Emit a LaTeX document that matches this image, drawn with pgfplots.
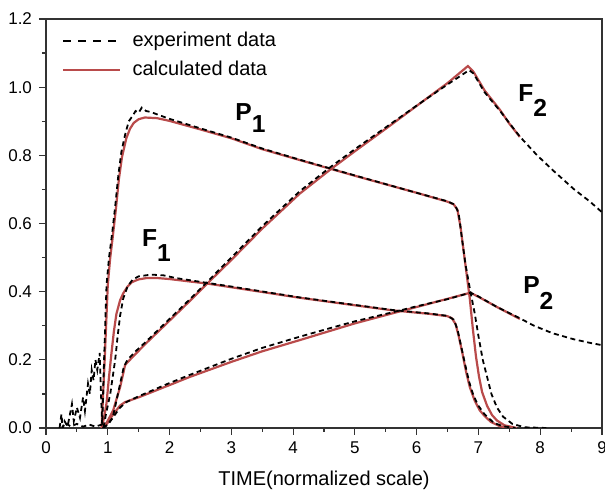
\documentclass[border=0pt]{standalone}
\usepackage{pgfplots}
\pgfplotsset{compat=1.18}
\usepackage{fontspec}
\setmainfont{Liberation Sans}
\usetikzlibrary{calc}
\definecolor{calcred}{RGB}{185,75,75}
\begin{document}
\begin{tikzpicture}
\begin{axis}[
  scale only axis,
  width=278pt, height=204.5pt,
  xmin=0, xmax=9, ymin=0, ymax=1.2,
  xtick={0,1,...,9}, ytick={0,0.2,...,1.2},
  minor tick num=1,
  tick align=outside,
  xtick pos=bottom, ytick pos=left,
  major tick length=3.5pt, minor tick length=2pt,
  axis line style={line width=0.8pt, black!80},
  every tick/.style={black!80, line width=0.6pt},
  /pgf/number format/assume math mode=true,
  yticklabel style={/pgf/number format/.cd, fixed, fixed zerofill, precision=1},
  ticklabel style={font=\fontsize{8.5}{10}\selectfont},
  xlabel={TIME(normalized scale)},
  xlabel style={at={(axis description cs:0.5,0)}, anchor=base, yshift=-29pt, font=\fontsize{10}{12}\selectfont},
  legend style={draw=none, fill=none, at={(rel axis cs:0,1)}, anchor=north west,
    xshift=5pt, yshift=-2.5pt, font=\fontsize{10}{12}\selectfont, row sep=1.5pt},
  legend image code/.code={\draw[#1] (0pt,0pt) -- (28.5pt,0pt); \path (32pt,0pt);},
  legend cell align=left,
]
\coordinate (SW) at (rel axis cs:0,0);
\coordinate (NE) at (rel axis cs:1,1);
\addlegendimage{black, line width=0.9pt, dash pattern=on 4pt off 3.5pt}
\addlegendentry{experiment data}
\addlegendimage{calcred, line width=1.1pt}
\addlegendentry{calculated data}

% ---------- calculated data ----------
% P1
\addplot[calcred, line width=1.1pt, forget plot] coordinates {
(0.9,0) (0.95,0.2) (1.0,0.42) (1.04,0.5) (1.08,0.56) (1.13,0.64) (1.18,0.73) (1.23,0.795) (1.3,0.85) (1.36,0.878) (1.42,0.895) (1.5,0.906) (1.6,0.911) (1.8,0.909) (2.0,0.901) (2.5,0.876) (3.0,0.85) (3.5,0.818) (4.11,0.786) (5.0,0.74) (6.0,0.69) (6.5,0.664) (6.6,0.656) (6.66,0.64) (6.71,0.59) (6.76,0.52) (6.81,0.45) (6.86,0.38) (6.91,0.29) (6.96,0.21) (7.01,0.15) (7.06,0.105) (7.14,0.065) (7.22,0.038) (7.3,0.022) (7.42,0.008) (7.62,0)
};
% F1
\addplot[calcred, line width=1.1pt, forget plot] coordinates {
(0.9,0) (0.94,0.03) (0.98,0.073) (1.02,0.15) (1.06,0.22) (1.1,0.285) (1.14,0.335) (1.2,0.375) (1.25,0.395) (1.32,0.415) (1.39,0.428) (1.5,0.436) (1.63,0.44) (1.8,0.44) (2.0,0.437) (2.6,0.424) (3.0,0.413) (4.11,0.382) (5.0,0.36) (5.62,0.345) (6.2,0.335) (6.5,0.328) (6.57,0.322) (6.63,0.305) (6.68,0.27) (6.74,0.22) (6.8,0.165) (6.86,0.12) (6.94,0.08) (7.02,0.052) (7.1,0.035) (7.2,0.018) (7.35,0.005) (7.5,0)
};
% F2
\addplot[calcred, line width=1.1pt, forget plot] coordinates {
(0.9,0) (0.98,0.015) (1.04,0.035) (1.09,0.053) (1.15,0.09) (1.2,0.12) (1.25,0.16) (1.28,0.185) (1.4,0.208) (1.6,0.245) (2.0,0.315) (2.33,0.373) (2.6,0.422) (3.0,0.493) (3.5,0.585) (4.11,0.688) (4.6,0.758) (5.0,0.812) (5.5,0.878) (6.0,0.945) (6.5,1.012) (6.83,1.062) (6.92,1.045) (7.1,0.99) (7.35,0.933) (7.5,0.893) (7.67,0.854)
};
% P2
\addplot[calcred, line width=1.1pt, forget plot] coordinates {
(0.9,0) (0.98,0.01) (1.06,0.033) (1.13,0.05) (1.2,0.066) (1.28,0.076) (1.5,0.09) (2.0,0.126) (2.33,0.15) (3.0,0.194) (3.5,0.225) (4.11,0.258) (4.6,0.285) (5.0,0.307) (5.62,0.337) (6.0,0.355) (6.5,0.379) (6.87,0.397) (7.0,0.385) (7.3,0.355) (7.67,0.32)
};

% ---------- experiment data ----------
% P1
\addplot[black, line width=0.9pt, dash pattern=on 2.5pt off 1.8pt, forget plot] coordinates {
(0.22,0) (0.25,0.04) (0.27,0.0) (0.3,0.02) (0.35,0.005) (0.42,0.07) (0.45,0.02) (0.5,0.06) (0.55,0.03) (0.6,0.09) (0.63,0.05) (0.68,0.13) (0.71,0.1) (0.74,0.17) (0.77,0.14) (0.8,0.2) (0.83,0.17) (0.87,0.22) (0.89,0.1) (0.91,0.01) (0.94,0.2) (0.98,0.42) (1.02,0.5) (1.07,0.57) (1.12,0.65) (1.17,0.74) (1.22,0.81) (1.28,0.86) (1.34,0.9) (1.4,0.915) (1.45,0.93) (1.5,0.925) (1.55,0.94) (1.62,0.93) (1.7,0.927) (1.8,0.92) (2.0,0.907) (2.5,0.879) (3.0,0.852) (3.5,0.82) (4.11,0.787) (5.0,0.741) (6.0,0.69) (6.5,0.665) (6.62,0.655) (6.68,0.63) (6.73,0.56) (6.79,0.48) (6.86,0.41) (6.94,0.336) (7.0,0.27) (7.07,0.2) (7.14,0.15) (7.21,0.1) (7.3,0.06) (7.4,0.033) (7.55,0.012) (7.75,0.002) (8.1,0)
};
% F1
\addplot[black, line width=0.9pt, dash pattern=on 2.5pt off 1.8pt, forget plot] coordinates {
(0.25,0.03) (0.27,0) (0.3,0.015) (0.4,0.005) (0.5,0.012) (0.6,0.004) (0.7,0.01) (0.8,0.004) (0.9,0.01) (0.93,0.0) (0.97,0.04) (1.04,0.1) (1.08,0.15) (1.12,0.2) (1.16,0.27) (1.2,0.33) (1.25,0.38) (1.32,0.415) (1.4,0.435) (1.5,0.445) (1.7,0.45) (1.9,0.448) (2.1,0.44) (2.6,0.426) (3.0,0.415) (4.11,0.383) (5.0,0.361) (5.62,0.346) (6.2,0.336) (6.5,0.329) (6.6,0.318) (6.66,0.29) (6.72,0.24) (6.78,0.19) (6.85,0.135) (6.92,0.095) (7.0,0.065) (7.1,0.04) (7.25,0.015) (7.4,0.005) (7.6,0)
};
% F2
\addplot[black, line width=0.9pt, dash pattern=on 2.5pt off 1.8pt, forget plot] coordinates {
(0.92,0) (1.0,0.01) (1.08,0.03) (1.14,0.08) (1.2,0.13) (1.26,0.18) (1.32,0.2) (1.45,0.225) (1.6,0.25) (2.0,0.32) (2.33,0.378) (2.6,0.427) (3.0,0.5) (3.5,0.592) (4.11,0.695) (4.6,0.765) (5.0,0.818) (5.5,0.882) (6.0,0.946) (6.5,1.008) (6.85,1.05) (6.92,1.04) (7.1,0.985) (7.35,0.93) (7.67,0.855) (7.95,0.80) (8.2,0.757) (8.55,0.70) (8.8,0.665) (9.0,0.633)
};
% P2
\addplot[black, line width=0.9pt, dash pattern=on 2.5pt off 1.8pt, forget plot] coordinates {
(0.92,0) (1.0,0.01) (1.1,0.035) (1.2,0.06) (1.3,0.076) (1.5,0.093) (2.0,0.132) (2.33,0.156) (3.0,0.203) (3.5,0.235) (4.11,0.268) (4.6,0.293) (5.0,0.313) (5.62,0.34) (6.0,0.357) (6.5,0.378) (6.87,0.397) (7.0,0.386) (7.3,0.355) (7.67,0.322) (7.9,0.30) (8.2,0.278) (8.55,0.26) (8.8,0.25) (9.0,0.243)
};

% labels
\node[anchor=base west, inner sep=0pt, font=\fontsize{12.3}{14}\selectfont\bfseries] at (axis cs:3.06,0.903) {P\raisebox{-6pt}{1}};
\node[anchor=base west, inner sep=0pt, font=\fontsize{12.3}{14}\selectfont\bfseries] at (axis cs:1.55,0.532) {F\raisebox{-7.5pt}{1}};
\node[anchor=base west, inner sep=0pt, font=\fontsize{12.3}{14}\selectfont\bfseries] at (axis cs:7.64,0.957) {F\raisebox{-7.5pt}{2}};
\node[anchor=base west, inner sep=0pt, font=\fontsize{12.3}{14}\selectfont\bfseries] at (axis cs:7.72,0.395) {P\raisebox{-8pt}{2}};
\end{axis}
\pgfresetboundingbox
\useasboundingbox ($(SW)+(-23pt,-32pt)$) rectangle ($(NE)+(1.5pt,9.5pt)$);
\end{tikzpicture}
\end{document}
